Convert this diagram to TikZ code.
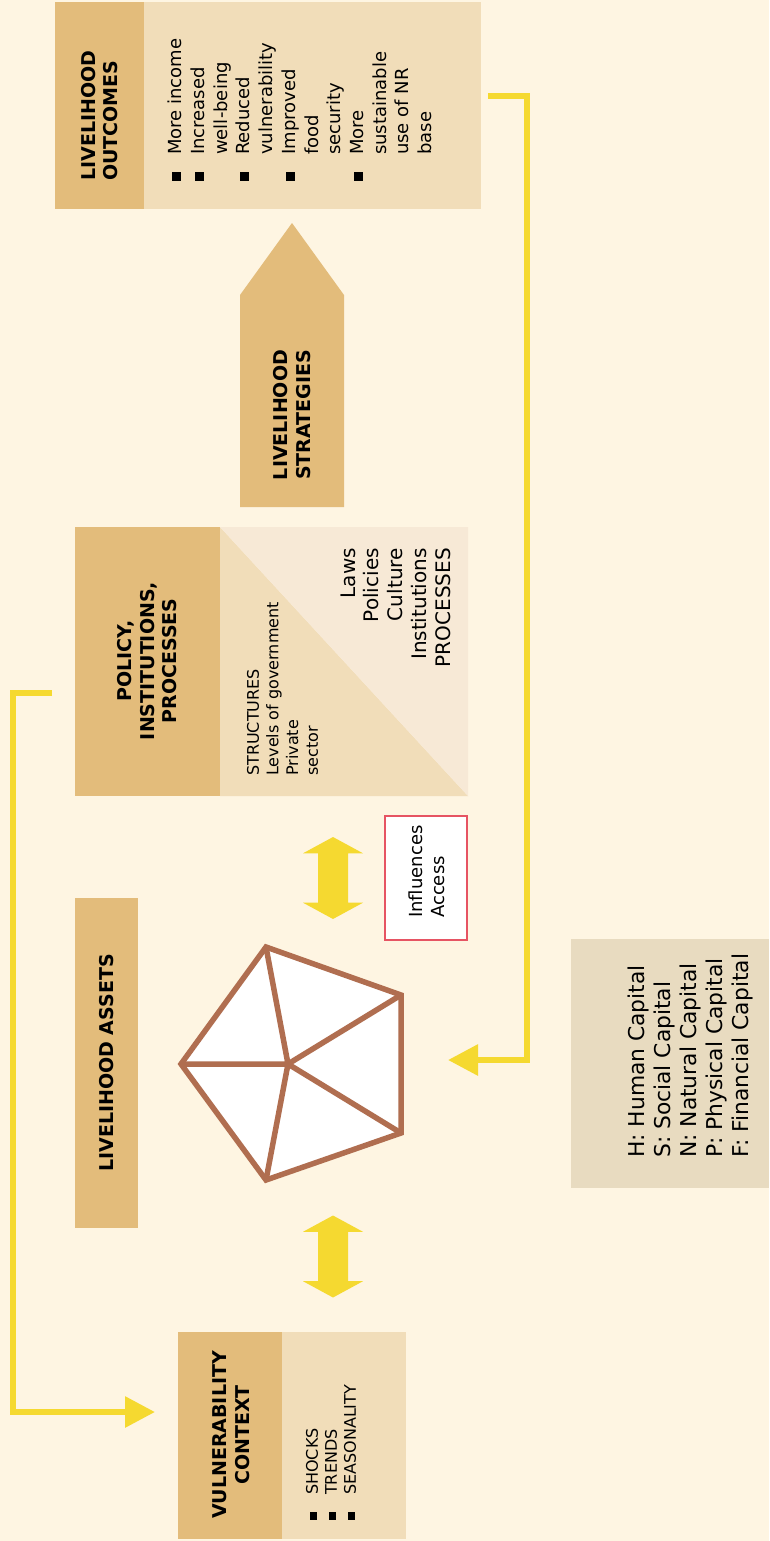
\documentclass[tikz,border=0pt]{standalone}
\usepackage{fontspec}
\setmainfont{DejaVu Sans}
\usetikzlibrary{arrows.meta}
\definecolor{bg}{HTML}{FEF5E2}
\definecolor{darktan}{HTML}{E3BC7B}
\definecolor{lighttan}{HTML}{F1DDB9}
\definecolor{vlighttan}{HTML}{F7E9D6}
\definecolor{legendbg}{HTML}{E8DBC0}
\definecolor{yel}{HTML}{F5D930}
\definecolor{brn}{HTML}{B06E50}
\definecolor{redb}{HTML}{E65463}
\newcommand{\obul}{\makebox[26pt][l]{\rule[0.5pt]{9pt}{9pt}}}
\newcommand{\oind}{\hspace*{26pt}}
\newcommand{\vbul}{\makebox[25pt][l]{\rule[0.5pt]{7.5pt}{7.5pt}}}
\tikzset{
  box/.style={inner sep=0pt, outer sep=0pt, draw=none},
  titletext/.style={rotate=90, inner sep=0pt, font=\bfseries\fontsize{19}{22.5}\selectfont},
  bodytext/.style={rotate=90, inner sep=0pt},
  conn/.style={draw=yel, line width=6pt, -{Triangle[length=30pt,width=30pt]}},
  dblarrow/.pic={\fill[yel] (0,-41) -- (30,-24.7) -- (15,-24.7) -- (15,24.7) -- (30,24.7) -- (0,41) -- (-30,24.7) -- (-15,24.7) -- (-15,-24.7) -- (-30,-24.7) -- cycle;},
  spoke/.style={draw=brn, line width=5.5pt}
}
\begin{document}
\begin{tikzpicture}[x=1pt,y=-1pt]
\fill[bg] (0,0) rectangle (769,1541);
\useasboundingbox (0,0) rectangle (769,1541);

% Livelihood outcomes
\node[box, fill=darktan, minimum width=89pt, minimum height=207pt] (outT) at (99.5,105.5) {};
\node[box, fill=lighttan, minimum width=337pt, minimum height=207pt] (outB) at (312.5,105.5) {};
\node[titletext, anchor=west, align=left] (outTitle) at (99.5,181) {LIVELIHOOD\\OUTCOMES};
\node[bodytext, anchor=west, align=left, font=\fontsize{18}{22.7}\selectfont] (outTxt) at (300,181)
  {\obul More income\\ \obul Increased\\ \oind well-being\\ \obul Reduced\\ \oind vulnerability\\ \obul Improved\\ \oind food\\ \oind security\\ \obul More\\ \oind sustainable\\ \oind use of NR\\ \oind base};

% Livelihood strategies
\fill[darktan] (240,507) -- (240,295) -- (292,223) -- (344,295) -- (344,507) -- cycle;
\node[titletext, align=center] (stratTitle) at (292,415) {LIVELIHOOD\\STRATEGIES};

% Policy, institutions, processes
\node[box, fill=darktan, minimum width=145pt, minimum height=269pt] (polT) at (147.5,661.5) {};
\fill[lighttan] (220,527) -- (220,796) -- (468,796) -- cycle;
\fill[vlighttan] (220,527) -- (468,527) -- (468,796) -- cycle;
\node[titletext, align=center] (polTitle) at (147.5,661) {POLICY,\\INSTITUTIONS,\\PROCESSES};
\node[bodytext, anchor=west, align=left, font=\fontsize{16}{19.7}\selectfont] (structTxt) at (282.5,776)
  {STRUCTURES\\Levels of government\\Private\\sector};
\node[bodytext, anchor=east, align=right, font=\fontsize{20}{23.75}\selectfont] (procTxt) at (395.5,548)
  {Laws\\Policies\\Culture\\Institutions\\PROCESSES};

% Influences / access
\node[draw=redb, fill=white, line width=1.5pt, minimum width=82pt, minimum height=124pt, inner sep=0pt] (inflBox) at (426,878) {};
\node[bodytext, anchor=west, align=left, font=\fontsize{18}{22}\selectfont] (inflTxt) at (426.8,918) {Influences\\Access};

% Double arrows
\pic at (333,878) {dblarrow};
\pic at (333,1256.5) {dblarrow};

% Livelihood assets
\node[box, fill=darktan, minimum width=63pt, minimum height=330pt] (assetBox) at (106.5,1063) {};
\node[titletext] (assetTitle) at (106.5,1063) {LIVELIHOOD ASSETS};

% Pentagon
\coordinate (pc) at (288,1064);
\coordinate (p1) at (181,1064);
\coordinate (p2) at (266,947);
\coordinate (p3) at (401,995);
\coordinate (p4) at (401,1133);
\coordinate (p5) at (266,1180);
\filldraw[fill=white, spoke] (p1) -- (p2) -- (p3) -- (p4) -- (p5) -- cycle;
\draw[spoke] (pc) -- (p1) (pc) -- (p2) (pc) -- (p3) (pc) -- (p4) (pc) -- (p5);

% Legend
\node[box, fill=legendbg, minimum width=198pt, minimum height=249pt] (legBox) at (670,1063.5) {};
\node[bodytext, anchor=west, align=left, font=\fontsize{21.8}{26}\selectfont] (legTxt) at (690,1158)
  {H: Human Capital\\S: Social Capital\\N: Natural Capital\\P: Physical Capital\\F: Financial Capital};

% Vulnerability context
\node[box, fill=darktan, minimum width=104pt, minimum height=207pt] (vulT) at (230,1435.5) {};
\node[box, fill=lighttan, minimum width=124pt, minimum height=207pt] (vulB) at (344,1435.5) {};
\node[titletext, align=center] (vulTitle) at (231,1435) {VULNERABILITY\\CONTEXT};
\node[bodytext, anchor=west, align=left, font=\fontsize{16}{19}\selectfont] (vulTxt) at (331,1520)
  {\vbul SHOCKS\\ \vbul TRENDS\\ \vbul SEASONALITY};

% Feedback connectors
\coordinate (l0) at (52,693);
\coordinate (l1) at (155,1412);
\draw[conn] (l0) -- (13,693) |- (l1);
\coordinate (r0) at (488,96);
\coordinate (r1) at (448,1060);
\draw[conn] (r0) -- (527,96) |- (r1);
\end{tikzpicture}
\end{document}
